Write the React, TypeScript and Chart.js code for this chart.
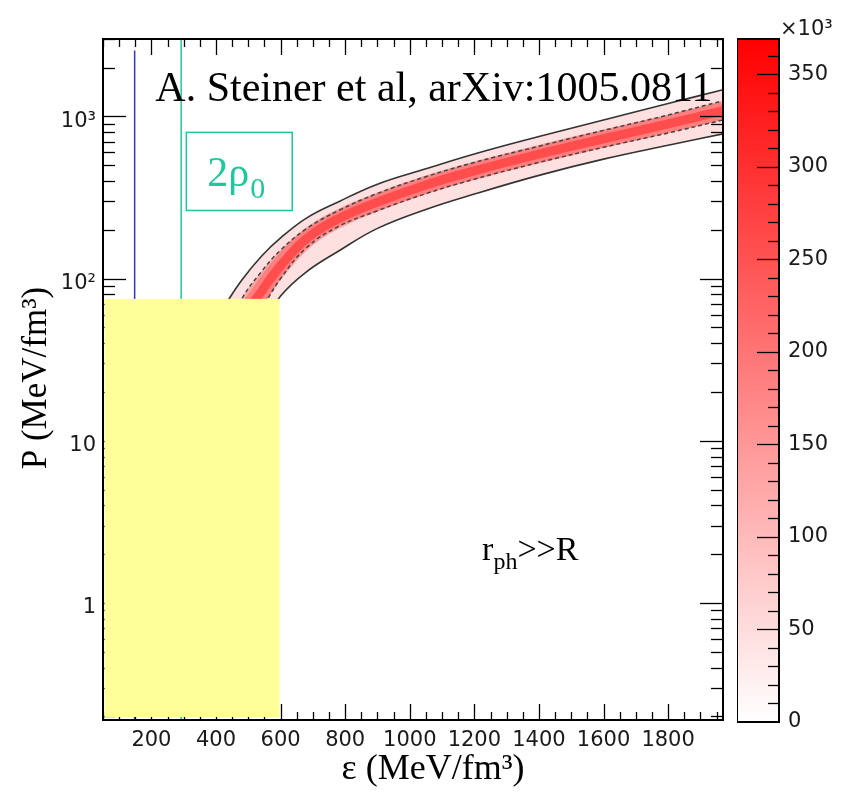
import React, { useEffect, useRef } from 'react';
import { Chart, registerables } from 'chart.js';
Chart.register(...registerables);

// ---------- data ----------
const EPS = [420, 480, 540, 600, 680, 780, 900, 1050, 1200, 1400, 1600, 1800, 1970];
const P_OUTER_HI = [65, 98, 137, 178, 236, 298, 382, 475, 586, 751, 950, 1200, 1460];
const P_INNER_HI = [40, 75, 110, 150, 203, 263, 335, 425, 520, 655, 820, 1020, 1250];
const P_RIDGE = [30, 55, 83, 120, 176, 234, 296, 378, 462, 585, 728, 898, 1085];
const P_INNER_LO = [20, 40, 64, 100, 155, 210, 262, 334, 410, 520, 645, 790, 950];
const P_OUTER_LO = [12, 28, 50, 78, 110, 148, 204, 267, 332, 433, 545, 664, 780];

const EPS_RHO0 = 148;
const EPS_2RHO0 = 292;
const RHO0_LINE_P = [2550, 0.19];
const RHO2_LINE_P = [3000, 0.19];

const X_TICKS = [200, 400, 600, 800, 1000, 1200, 1400, 1600, 1800];
const X_TICK_LABELS = ['200', '400', '600', '800', '1000', '1200', '1400', '1600', '1800'];
const Y_TICKS = [1, 10, 100, 1000];
const Y_TICK_LABELS = ['1', '10', '10\u00B2', '10\u00B3'];
const CB_TICKS = [0, 50, 100, 150, 200, 250, 300, 350];
const CB_TICK_LABELS = ['0', '50', '100', '150', '200', '250', '300', '350'];
const CB_MAX = 369;

const X_MIN = 50, X_MAX = 1970, Y_MIN = 0.19, Y_MAX = 3000;

const TICK_FONT = '"DejaVu Sans", sans-serif';
const SERIF = '"Liberation Serif", "Times New Roman", serif';
const TEAL = '#1ec79c';

const line = (xs: number[], ys: number[]) => xs.map((x, i) => ({ x, y: ys[i] }));

function mainConfig(): any {
  const base = { pointRadius: 0, tension: 0.4, parsing: false };
  const plugin = {
    id: 'rootFrame',
    afterDraw(chart: any) {
      const { ctx, chartArea, scales } = chart;
      const { left, right, top, bottom } = chartArea;
      const xs = scales.x, ys = scales.y;
      ctx.save();
      ctx.strokeStyle = '#000';
      ctx.lineWidth = 1.3;
      const seg = (a: number, b: number, c: number, d: number) => {
        ctx.beginPath(); ctx.moveTo(a, b); ctx.lineTo(c, d); ctx.stroke();
      };
      for (let v = 50; v <= xs.max; v += 50) {
        const px = Math.round(xs.getPixelForValue(v)) + 0.5;
        const L = v % 200 === 0 ? 16 : 8;
        seg(px, bottom, px, bottom - L);
        seg(px, top, px, top + L);
      }
      for (let e = -1; e <= 3; e++) {
        for (let k = 1; k <= 9; k++) {
          const v = k * Math.pow(10, e);
          if (v < ys.min || v > ys.max) continue;
          const py = Math.round(ys.getPixelForValue(v)) + 0.5;
          const L = k === 1 ? 23 : 12;
          seg(left, py, left + L, py);
          seg(right, py, right - L, py);
        }
      }
      ctx.lineWidth = 2;
      ctx.strokeRect(left, top, right - left, bottom - top);

      // yellow occluding block
      ctx.fillStyle = '#ffff99';
      const yx1 = xs.getPixelForValue(597);
      const yy0 = ys.getPixelForValue(75);
      ctx.fillRect(left + 1.5, yy0, yx1 - left - 1.5, bottom - 3 - yy0);

      // annotation: reference
      ctx.fillStyle = '#000';
      ctx.textBaseline = 'alphabetic';
      ctx.textAlign = 'left';
      ctx.font = `42px ${SERIF}`;
      ctx.fillText('A. Steiner et al, arXiv:1005.0811', xs.getPixelForValue(212), ys.getPixelForValue(1240));

      // 2rho0 box
      ctx.strokeStyle = TEAL;
      ctx.lineWidth = 1.5;
      const bx0 = xs.getPixelForValue(308), bx1 = xs.getPixelForValue(636);
      const by0 = ys.getPixelForValue(797), by1 = ys.getPixelForValue(263);
      ctx.strokeRect(bx0, by0, bx1 - bx0, by1 - by0);
      ctx.fillStyle = TEAL;
      ctx.font = `42px ${SERIF}`;
      let tx = xs.getPixelForValue(373);
      const tb = ys.getPixelForValue(370);
      ctx.fillText('2\u03C1', tx, tb);
      tx += ctx.measureText('2\u03C1').width + 1;
      ctx.font = `30px ${SERIF}`;
      ctx.fillText('0', tx, tb + 12);

      // r_ph >> R
      ctx.fillStyle = '#000';
      let rx = xs.getPixelForValue(1224);
      const rb = ys.getPixelForValue(1.84);
      ctx.font = `34px ${SERIF}`;
      ctx.fillText('r', rx, rb);
      rx += ctx.measureText('r').width;
      ctx.font = `24px ${SERIF}`;
      ctx.fillText('ph', rx, rb + 9);
      rx += ctx.measureText('ph').width;
      ctx.font = `34px ${SERIF}`;
      ctx.fillText('>>R', rx, rb);

      // axis titles
      ctx.font = `36px ${SERIF}`;
      ctx.textAlign = 'center';
      ctx.textBaseline = 'middle';
      ctx.fillText('\u03B5 (MeV/fm\u00B3)', 433, 770);
      ctx.font = `35px ${SERIF}`;
      ctx.save();
      ctx.translate(37, 378);
      ctx.rotate(-Math.PI / 2);
      ctx.fillText('P (MeV/fm\u00B3)', 0, 0);
      ctx.restore();
      ctx.restore();
    },
  };
  return {
    type: 'line',
    data: {
      datasets: [
        { ...base, data: line(EPS, P_OUTER_HI), borderWidth: 0, fill: 1, backgroundColor: '#ffe0e0', order: 9 },
        { ...base, data: line(EPS, P_OUTER_LO), borderWidth: 0, fill: false, order: 9 },
        { ...base, data: line(EPS, P_INNER_HI), borderWidth: 0, fill: 3, backgroundColor: '#ffa3a3', order: 8 },
        { ...base, data: line(EPS, P_INNER_LO), borderWidth: 0, fill: false, order: 8 },
        { ...base, data: line(EPS, P_RIDGE), borderWidth: 18, borderColor: 'rgba(255,90,90,0.5)', fill: false, order: 7 },
        { ...base, data: line(EPS, P_RIDGE), borderWidth: 9, borderColor: 'rgba(255,60,60,0.75)', fill: false, order: 6 },
        { ...base, data: line(EPS, P_OUTER_HI), borderWidth: 1.6, borderColor: '#333', fill: false, order: 2 },
        { ...base, data: line(EPS, P_OUTER_LO), borderWidth: 1.6, borderColor: '#333', fill: false, order: 2 },
        { ...base, data: line(EPS, P_INNER_HI), borderWidth: 1.5, borderColor: '#444', borderDash: [4, 3], fill: false, order: 2 },
        { ...base, data: line(EPS, P_INNER_LO), borderWidth: 1.5, borderColor: '#444', borderDash: [4, 3], fill: false, order: 2 },
        { ...base, data: line([EPS_RHO0, EPS_RHO0], RHO0_LINE_P), borderWidth: 1.5, borderColor: '#3535b8', fill: false, order: 1 },
        { ...base, data: line([EPS_2RHO0, EPS_2RHO0], RHO2_LINE_P), borderWidth: 1.5, borderColor: TEAL, fill: false, order: 1 },
      ],
    },
    options: {
      animation: false,
      responsive: true,
      maintainAspectRatio: false,
      layout: { padding: { top: 39, right: 126, bottom: 0, left: 0 } },
      plugins: { legend: { display: false }, tooltip: { enabled: false } },
      scales: {
        x: {
          type: 'linear', min: X_MIN, max: X_MAX,
          grid: { display: false, drawTicks: false }, border: { display: false },
          afterBuildTicks: (s: any) => { s.ticks = X_TICKS.map((v) => ({ value: v })); },
          afterFit: (s: any) => { s.height = 73; },
          ticks: {
            autoSkip: false, maxRotation: 0, padding: 8, color: '#1a1a1a',
            font: { family: TICK_FONT, size: 21 },
            callback: (_v: any, i: number) => X_TICK_LABELS[i],
          },
        },
        y: {
          type: 'logarithmic', min: Y_MIN, max: Y_MAX,
          grid: { display: false, drawTicks: false }, border: { display: false },
          afterBuildTicks: (s: any) => { s.ticks = Y_TICKS.map((v) => ({ value: v })); },
          afterFit: (s: any) => { s.width = 103; },
          ticks: {
            autoSkip: false, padding: 7, color: '#1a1a1a', labelOffset: 5,
            font: { family: TICK_FONT, size: 21 },
            callback: (_v: any, i: number) => Y_TICK_LABELS[i],
          },
        },
      },
    },
    plugins: [plugin],
  };
}

function cbConfig(): any {
  const plugin = {
    id: 'cbFrame',
    afterDraw(chart: any) {
      const { ctx, chartArea, scales } = chart;
      const { left, right, top, bottom } = chartArea;
      const ys = scales.y;
      ctx.save();
      ctx.strokeStyle = '#000';
      ctx.lineWidth = 1.3;
      for (let v = 10; v < ys.max; v += 10) {
        const py = Math.round(ys.getPixelForValue(v)) + 0.5;
        const L = v % 50 === 0 ? 22 : 11;
        ctx.beginPath(); ctx.moveTo(right, py); ctx.lineTo(right - L, py); ctx.stroke();
      }
      ctx.lineWidth = 2;
      ctx.strokeRect(left, top, right - left, bottom - top);
      ctx.fillStyle = '#1a1a1a';
      ctx.font = `21px ${TICK_FONT}`;
      ctx.textBaseline = 'alphabetic';
      ctx.textAlign = 'left';
      ctx.fillText('\u00D710\u00B3', right + 1, top - 4);
      ctx.restore();
    },
  };
  return {
    type: 'bar',
    data: {
      labels: ['cb'],
      datasets: [{
        data: [CB_MAX],
        borderWidth: 0,
        barPercentage: 1,
        categoryPercentage: 1,
        backgroundColor: (c: any) => {
          const a = c.chart.chartArea;
          if (!a) return '#ff8080';
          const g = c.chart.ctx.createLinearGradient(0, a.bottom, 0, a.top);
          g.addColorStop(0, '#ffffff');
          g.addColorStop(1, '#ff0000');
          return g;
        },
      }],
    },
    options: {
      animation: false,
      responsive: true,
      maintainAspectRatio: false,
      layout: { padding: { top: 39, right: 0, bottom: 71, left: 0 } },
      plugins: { legend: { display: false }, tooltip: { enabled: false } },
      scales: {
        x: { display: false },
        y: {
          position: 'right', min: 0, max: CB_MAX,
          grid: { display: false, drawTicks: false }, border: { display: false },
          afterBuildTicks: (s: any) => { s.ticks = CB_TICKS.map((v) => ({ value: v })); },
          afterFit: (s: any) => { s.width = 70; },
          ticks: {
            autoSkip: false, padding: 9, color: '#1a1a1a',
            font: { family: TICK_FONT, size: 21 },
            callback: (_v: any, i: number) => CB_TICK_LABELS[i],
          },
        },
      },
    },
    plugins: [plugin],
  };
}

export default function App() {
  const mainRef = useRef<HTMLCanvasElement>(null);
  const cbRef = useRef<HTMLCanvasElement>(null);
  useEffect(() => {
    const c1 = new Chart(mainRef.current as HTMLCanvasElement, mainConfig());
    const c2 = new Chart(cbRef.current as HTMLCanvasElement, cbConfig());
    return () => { c1.destroy(); c2.destroy(); };
  }, []);
  return (
    <div style={{ position: 'fixed', left: 0, top: 0, width: 849, height: 793, background: '#fff' }}>
      <div style={{ position: 'absolute', left: 0, top: 0, width: 849, height: 793 }}>
        <canvas ref={mainRef} />
      </div>
      <div style={{ position: 'absolute', left: 737, top: 0, width: 112, height: 793 }}>
        <canvas ref={cbRef} />
      </div>
    </div>
  );
}
